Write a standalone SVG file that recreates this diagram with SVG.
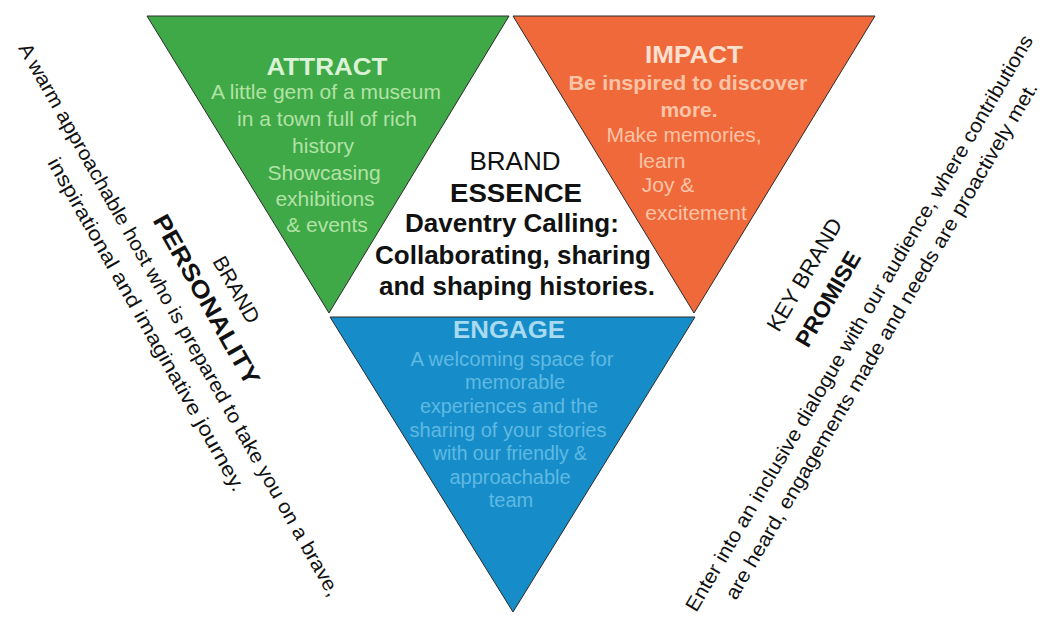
<svg xmlns="http://www.w3.org/2000/svg" width="1040" height="622" viewBox="0 0 1040 622">
  <style>
    text { font-family: "Liberation Sans", Arial, sans-serif; text-anchor: middle; }
    .tri { stroke: #2b2b2b; stroke-width: 1; stroke-linejoin: miter; }
    .head { font-weight: bold; font-size: 24px; }
    .g-head { fill: #dcf2d6; }
    .g-body { fill: #b3e2a6; font-size: 21px; }
    .o-head { fill: #fde0d0; }
    .o-body { fill: #fcc4a6; font-size: 21px; }
    .b-head { fill: #a8daf1; }
    .b-body { fill: #5fb9e3; font-size: 20px; }
    .core { fill: #111; font-size: 26px; }
    .side { fill: #111; font-size: 20px; }
    .bold { font-weight: bold; }
  </style>

  <rect width="1040" height="622" fill="#ffffff"/>

  <!-- ATTRACT: top-left segment -->
  <g id="node-attract">
    <polygon class="tri" points="147,16 509,16 329,313" fill="#3ea946"/>
    <text class="head g-head" x="327" y="75" textLength="121" lengthAdjust="spacingAndGlyphs">ATTRACT</text>
    <text class="g-body" x="326" y="99">A little gem of a museum</text>
    <text class="g-body" x="327" y="126">in a town full of rich</text>
    <text class="g-body" x="323" y="153">history</text>
    <text class="g-body" x="324" y="180">Showcasing</text>
    <text class="g-body" x="325" y="206">exhibitions</text>
    <text class="g-body" x="327" y="232">&amp; events</text>
  </g>

  <!-- IMPACT: top-right segment -->
  <g id="node-impact">
    <polygon class="tri" points="513,16 875,16 694,313" fill="#f0693b"/>
    <text class="head o-head" x="694" y="63" textLength="98" lengthAdjust="spacingAndGlyphs">IMPACT</text>
    <text class="o-body bold" x="688" y="90" textLength="239" lengthAdjust="spacingAndGlyphs">Be inspired to discover</text>
    <text class="o-body bold" x="689" y="117">more.</text>
    <text class="o-body" x="684" y="142">Make memories,</text>
    <text class="o-body" x="662" y="168">learn</text>
    <text class="o-body" x="668" y="192">Joy &amp;</text>
    <text class="o-body" x="696" y="220">excitement</text>
  </g>

  <!-- ENGAGE: bottom segment -->
  <g id="node-engage">
    <polygon class="tri" points="330,317 695,317 513,612" fill="#168dc8"/>
    <text class="head b-head" x="509" y="338" textLength="112" lengthAdjust="spacingAndGlyphs">ENGAGE</text>
    <text class="b-body" x="512" y="366" textLength="203" lengthAdjust="spacingAndGlyphs">A welcoming space for</text>
    <text class="b-body" x="515" y="389">memorable</text>
    <text class="b-body" x="509" y="413" textLength="178" lengthAdjust="spacingAndGlyphs">experiences and the</text>
    <text class="b-body" x="508" y="437" textLength="197" lengthAdjust="spacingAndGlyphs">sharing of your stories</text>
    <text class="b-body" x="510" y="460" textLength="154" lengthAdjust="spacingAndGlyphs">with our friendly &amp;</text>
    <text class="b-body" x="510" y="484">approachable</text>
    <text class="b-body" x="511" y="507">team</text>
  </g>

  <!-- BRAND ESSENCE: central white triangle -->
  <g id="node-essence">
    <text class="core" x="515" y="170">BRAND</text>
    <text class="core bold" x="516" y="202" textLength="132" lengthAdjust="spacingAndGlyphs">ESSENCE</text>
    <text class="core bold" x="512" y="232">Daventry Calling:</text>
    <text class="core bold" x="513" y="264">Collaborating, sharing</text>
    <text class="core bold" x="517" y="295">and shaping histories.</text>
  </g>

  <!-- BRAND PERSONALITY: text running down the left edge -->
  <g id="node-personality" transform="translate(177,321) rotate(60.5)">
    <text class="side" x="2" y="-60" style="font-size:21px">BRAND</text>
    <text class="side bold" x="-4" y="-28" style="font-size:24px" textLength="192" lengthAdjust="spacingAndGlyphs">PERSONALITY</text>
    <text class="side" x="0" y="4" textLength="632" lengthAdjust="spacingAndGlyphs">A warm approachable host who is prepared to take you on a brave,</text>
    <text class="side" x="-12" y="35" textLength="380" lengthAdjust="spacingAndGlyphs">inspirational and imaginative journey.</text>
  </g>

  <!-- KEY BRAND PROMISE: text running up the right edge -->
  <g id="node-promise" transform="translate(859,323) rotate(-59.5)">
    <text class="side" x="14" y="-64" style="font-size:22px">KEY BRAND</text>
    <text class="side bold" x="5" y="-31" style="font-size:23px">PROMISE</text>
    <text class="side" x="0" y="7" textLength="665" lengthAdjust="spacingAndGlyphs">Enter into an inclusive dialogue with our audience, where contributions</text>
    <text class="side" x="-4" y="35" textLength="596" lengthAdjust="spacingAndGlyphs">are heard, engagements made and needs are proactively met.</text>
  </g>
</svg>
